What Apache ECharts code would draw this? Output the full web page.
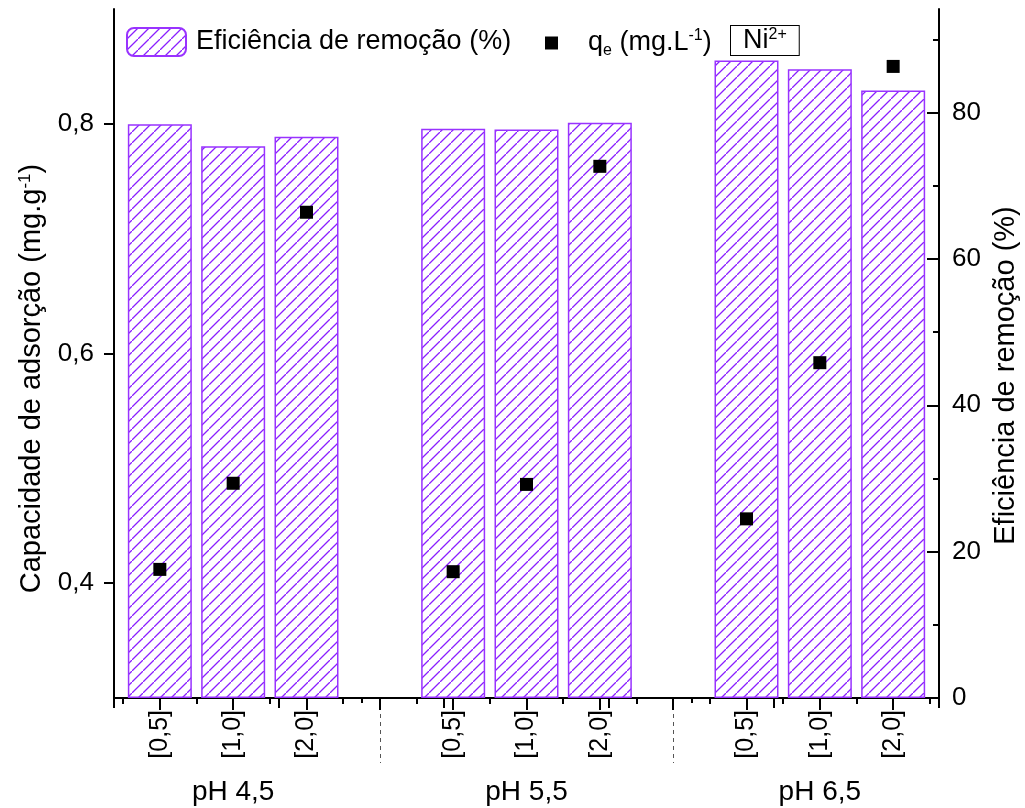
<!DOCTYPE html>
<html><head><meta charset="utf-8">
<script src="https://cdn.jsdelivr.net/npm/echarts@6/dist/echarts.min.js"></script>
<style>html,body{margin:0;padding:0;background:#fff}#c{width:1025px;height:808px}</style>
</head><body><div id="c"></div>
<script>
// ---- data ----
const groups = ['pH 4,5', 'pH 5,5', 'pH 6,5'];
const doses = ['[0,5]', '[1,0]', '[2,0]'];
const efficiency = [78.4, 75.4, 76.7, 77.8, 77.7, 78.6, 87.1, 85.9, 83.0];
const qe = [0.412, 0.487, 0.723, 0.410, 0.486, 0.763, 0.456, 0.592, 0.850];
const leftTicks = [0.4, 0.6, 0.8];
const rightTicks = [0, 20, 40, 60, 80];
const rightMinor = [10, 30, 50, 70, 90];
const seriesNames = ['Eficiência de remoção (%)', 'qe'];

// ---- layout helpers ----
const FONT = 'Liberation Sans, Arial, sans-serif';
const perGroup = doses.length + 1;
const pos = i => Math.floor(i / doses.length) * perGroup + (i % doses.length) + 1;
const xPos = efficiency.map((_, i) => pos(i));
const labelMap = {};
xPos.forEach((x, i) => { labelMap[x] = doses[i % doses.length]; });
const groupCenters = groups.map((_, g) => g * perGroup + (doses.length + 1) / 2);
const groupMap = {};
groupCenters.forEach((x, g) => { groupMap[x] = groups[g]; });
const separators = groups.slice(1).map((_, g) => (g + 1) * perGroup);
const minorX = [];
for (let v = 0.5; v < groups.length * perGroup; v += 1) minorX.push(v);
const xMin = 0.375, xMax = groups.length * perGroup - 0.375;

function hatch() {
  const s = 11;
  const c = document.createElement('canvas');
  c.width = s; c.height = s;
  const g = c.getContext('2d');
  g.strokeStyle = '#8a1fff';
  g.lineWidth = 1.3;
  g.beginPath();
  g.moveTo(-1, s + 1); g.lineTo(s + 1, -1);
  g.moveTo(-2, 1); g.lineTo(1, -2);
  g.moveTo(s - 1, s + 2); g.lineTo(s + 2, s - 1);
  g.stroke();
  return c;
}
const pattern = { image: hatch(), repeat: 'repeat' };

const axisLine = { show: true, lineStyle: { color: '#000', width: 2 } };
const tickStyle = { color: '#000', width: 2 };
const baseX = { type: 'value', min: xMin, max: xMax, gridIndex: 0, splitLine: { show: false } };

const option = {
  backgroundColor: '#fff',
  animation: false,
  textStyle: { fontFamily: FONT, color: '#000' },
  grid: { left: 114, right: 86, top: 9, bottom: 110, containLabel: false, outerBoundsMode: 'none' },
  legend: [
    {
      data: [seriesNames[0]], left: 121, top: 22, itemWidth: 59, itemHeight: 28,
      textStyle: { fontFamily: FONT, fontSize: 27, color: '#000', padding: [0, 0, 0, 5] },
      selectedMode: false
    },
    {
      data: [seriesNames[1]], left: 540, top: 23, itemWidth: 13, itemHeight: 13,
      itemStyle: { opacity: 1, color: '#000' },
      formatter: () => '{a|q}{sub|e}{a| (mg.L}{sup|-1}{a|)}',
      textStyle: {
        fontFamily: FONT, fontSize: 27, color: '#000', padding: [0, 0, 0, 25],
        rich: {
          a: { fontFamily: FONT, fontSize: 27, color: '#000' },
          sub: { fontFamily: FONT, fontSize: 16, color: '#000', padding: [16, 0, 0, 0] },
          sup: { fontFamily: FONT, fontSize: 16, color: '#000', padding: [0, 0, 14, 0] }
        }
      },
      selectedMode: false
    }
  ],
  graphic: [{
    type: 'text', left: 730, top: 25, z: 10,
    style: {
      text: '{a|Ni}{s|2+}',
      rich: {
        a: { fontFamily: FONT, fontSize: 27, fill: '#000' },
        s: { fontFamily: FONT, fontSize: 16, fill: '#000', padding: [0, 0, 12, 0] }
      },
      backgroundColor: '#fff', borderColor: '#000', borderWidth: 1, padding: [1, 12, 0, 12]
    }
  }],
  xAxis: [
    Object.assign({}, baseX, {
      position: 'bottom', axisLine: axisLine,
      axisTick: { show: true, inside: false, length: 12, lineStyle: tickStyle, customValues: xPos },
      axisLabel: {
        show: true, rotate: 90, margin: 12, fontSize: 25, color: '#000', fontFamily: FONT,
        customValues: xPos, formatter: v => labelMap[v] || ''
      }
    }),
    Object.assign({}, baseX, {
      position: 'top', min: 0, max: 5, interval: 1, axisLine: axisLine,
      axisTick: { show: true, inside: true, length: 10, lineStyle: tickStyle },
      minorTick: { show: true, splitNumber: 2, length: 5, lineStyle: tickStyle },
      axisLabel: { show: false }
    }),
    Object.assign({}, baseX, {
      position: 'bottom', axisLine: { show: false },
      axisTick: { show: true, inside: false, length: 6, lineStyle: tickStyle, customValues: minorX },
      axisLabel: { show: false }
    }),
    Object.assign({}, baseX, {
      position: 'bottom', axisLine: { show: false },
      axisTick: { show: true, inside: false, length: 65, lineStyle: { color: '#555', width: 1, type: [4, 4] }, customValues: separators },
      axisLabel: {
        show: true, margin: 80, fontSize: 28, color: '#000', fontFamily: FONT,
        customValues: groupCenters, formatter: v => groupMap[v] || ''
      }
    }),
    Object.assign({}, baseX, {
      position: 'bottom', axisLine: { show: false },
      axisTick: { show: true, inside: false, length: 12, lineStyle: tickStyle, customValues: separators },
      axisLabel: { show: false }
    })
  ],
  yAxis: [
    {
      type: 'value', position: 'left', min: 0.3, max: 0.9, splitLine: { show: false },
      axisLine: axisLine,
      axisTick: { show: true, inside: false, length: 10, lineStyle: tickStyle, customValues: leftTicks },
      axisLabel: {
        margin: 20, fontSize: 26, color: '#000', fontFamily: FONT,
        customValues: leftTicks, formatter: v => v.toFixed(1).replace('.', ',')
      },
      name: '{a|Capacidade de adsorção (mg.g}{s|-1}{a|)}',
      nameLocation: 'middle', nameRotate: 90, nameGap: 61,
      nameTextStyle: {
        padding: [0, 50, 0, 0],
        rich: {
          a: { fontFamily: FONT, fontSize: 29, color: '#000' },
          s: { fontFamily: FONT, fontSize: 17, color: '#000', padding: [0, 0, 15, 0] }
        }
      }
    },
    {
      type: 'value', position: 'right', min: 0, max: 94.15, splitLine: { show: false },
      axisLine: axisLine,
      axisTick: { show: true, inside: true, length: 12, lineStyle: tickStyle, customValues: rightTicks },
      axisLabel: {
        margin: 13, fontSize: 26, color: '#000', fontFamily: FONT,
        customValues: rightTicks, formatter: v => String(v)
      },
      name: seriesNames[0], nameLocation: 'middle', nameRotate: 90, nameGap: 44,
      nameTextStyle: { fontFamily: FONT, fontSize: 29, color: '#000', padding: [0, 44, 0, 0] }
    },
    {
      type: 'value', position: 'right', min: 0, max: 94.15, splitLine: { show: false },
      axisLine: { show: false },
      axisTick: { show: true, inside: true, length: 6, lineStyle: tickStyle, customValues: rightMinor },
      axisLabel: { show: false }
    }
  ],
  series: [
    {
      name: seriesNames[0], type: 'bar', xAxisIndex: 0, yAxisIndex: 1, barWidth: 64,
      itemStyle: { color: pattern, borderColor: '#9933ff', borderWidth: 1.5 },
      data: efficiency.map((v, i) => [xPos[i], v]), z: 2
    },
    {
      name: seriesNames[1], type: 'scatter', xAxisIndex: 0, yAxisIndex: 0,
      symbol: 'rect', symbolSize: 13,
      itemStyle: { color: '#000', opacity: 1 },
      data: qe.map((v, i) => [xPos[i], v]), z: 5
    }
  ]
};

const chart = echarts.init(document.getElementById('c'), null, { renderer: 'canvas' });
chart.setOption(option);
</script></body></html>
